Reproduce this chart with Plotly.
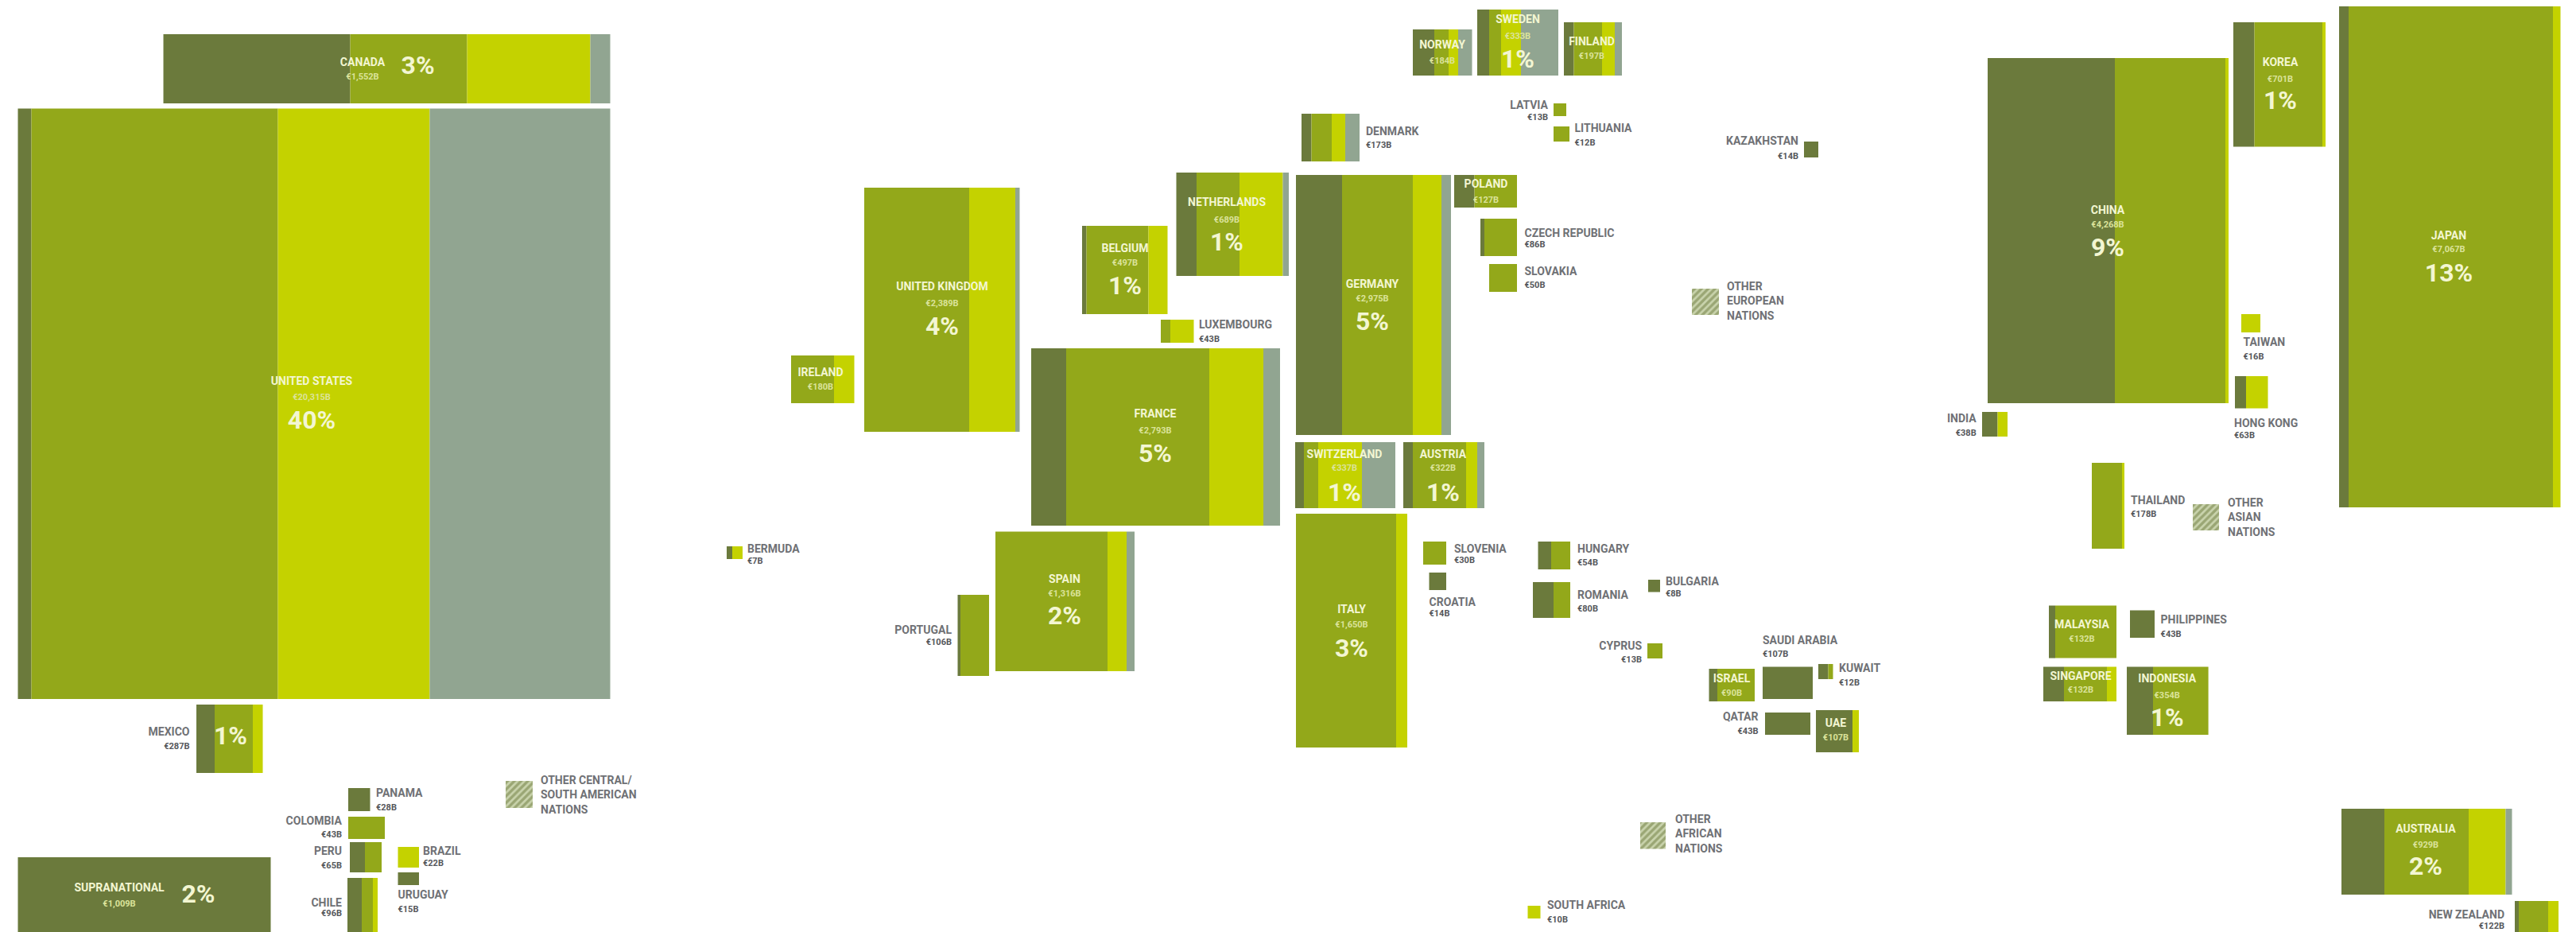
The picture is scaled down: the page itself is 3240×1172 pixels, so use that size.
import plotly.graph_objects as go

# ---- data: one entry per country, all lists run in the same order ----
COUNTRIES = ["CANADA","UNITED STATES","MEXICO","PANAMA","COLOMBIA","PERU","CHILE","BRAZIL","URUGUAY","SUPRANATIONAL",
 "UNITED KINGDOM","IRELAND","BELGIUM","NETHERLANDS","LUXEMBOURG","FRANCE","NORWAY","SWEDEN","FINLAND","DENMARK",
 "LATVIA","LITHUANIA","KAZAKHSTAN","GERMANY","POLAND","CZECH REPUBLIC","SLOVAKIA","SWITZERLAND","AUSTRIA","BERMUDA",
 "PORTUGAL","SPAIN","ITALY","SLOVENIA","CROATIA","HUNGARY","ROMANIA","BULGARIA","CYPRUS","SAUDI ARABIA",
 "KUWAIT","ISRAEL","QATAR","UAE","SOUTH AFRICA","CHINA","KOREA","JAPAN","TAIWAN","HONG KONG",
 "INDIA","THAILAND","MALAYSIA","PHILIPPINES","SINGAPORE","INDONESIA","AUSTRALIA","NEW ZEALAND"]
VALUE_LABELS = ["€1,552B","€20,315B","€287B","€28B","€43B","€65B","€96B","€22B","€15B","€1,009B",
 "€2,389B","€180B","€497B","€689B","€43B","€2,793B","€184B","€333B","€197B","€173B",
 "€13B","€12B","€14B","€2,975B","€127B","€86B","€50B","€337B","€322B","€7B",
 "€106B","€1,316B","€1,650B","€30B","€14B","€54B","€80B","€8B","€13B","€107B",
 "€12B","€90B","€43B","€107B","€10B","€4,268B","€701B","€7,067B","€16B","€63B",
 "€38B","€178B","€132B","€43B","€132B","€354B","€929B","€122B"]
PCT_LABELS = ["3%","40%","1%","","","","","","","2%",
 "4%","","1%","1%","","5%","","1%","","",
 "","","","5%","","","","1%","1%","",
 "","2%","3%","","","","","","","",
 "","","","","","9%","1%","13%","","",
 "","","","","","1%","2%",""]
SOVEREIGN = [235,17,23,27.5,0,19,18,0,26.5,318,
 0,0,5.5,25.5,0,44,27,15,12.5,12.5,
 0,0,18,58,25.5,5,0,11,12,7,
 3.5,0,0,0,21.5,16.5,26,15,0,63,
 12.5,10.5,57,46,0,160,26.5,12,0,14,
 19.5,0,8,31,26,33,54,5]
GOVT_RELATED = [147,310,48,0,46,21,14,0,0,0,
 132,54,78,54,12,180,18,15,35.5,25.5,
 16,20,0,89,53.5,41,35,18,67,0,
 36,141,126,29,0,24,21,0,19,0,
 6,47,0,0,0,139,85.5,257,0,0,
 0,38,77,0,54,69.6,106,37]
SECURITIZED = [155,191,12.5,0,0,0,6,26.5,0,0,
 58,25.5,24,54.5,29.5,68,12,25,16,17,
 0,0,0,36,0,0,0,55,14,13,
 0,24,14,0,0,0,0,0,0,0,
 0,0,0,8,16,4,4,9.5,24,27.5,
 12.5,3,0,0,12,0,46.5,13]
CORPORATE = [25,227,0,0,0,0,0,0,0,0,
 5.5,0,0,7.5,0,21,17.5,47,9,18,
 0,0,0,12,0,0,0,42,9,0,
 0,10,0,0,0,0,0,0,0,0,
 0,0,0,0,0,0,0,0,0,0,
 0,0,0,0,0,0,8,0]
SERIES_NAMES = ["Dark segment", "Mid segment", "Light segment", "Grey segment"]
OTHERS = ["OTHER CENTRAL/<br>SOUTH AMERICAN<br>NATIONS", "OTHER<br>EUROPEAN<br>NATIONS", "OTHER<br>AFRICAN<br>NATIONS", "OTHER<br>ASIAN<br>NATIONS"]
OTHER_WIDTHS = [34, 34, 32, 33]

# ---- layout of the cartogram, in page pixels ----
X_LEFT = [205.5,22.5,247,438,438,440,437,500.5,500.5,22.5,
 1087,995,1361,1479.5,1460,1297,1777,1858,1967,1637,
 1954,1954,2269,1630,1829,1862,1873,1629,1765,914,
 1204.5,1252,1630,1790,1797.5,1934.5,1928,2073,2072,2217,
 2287,2149.5,2220,2284,1921.5,2500,2809,2942,2819,2811,
 2493,2631,2577,2679,2570,2675,2945,3163]
Y_TOP = [43,136.6,886,991,1027,1059,1104,1065,1097,1078,
 236,447,284,217,402,438,37,12,28,143,
 130,159,178,220,220,275,332,556,556,687,
 748,668.5,646,681,720,681,732,729,809,838.5,
 835,841,896,893,1139,73,28,8,395,473,
 518,582,761.5,767.6,838.5,838.5,1017,1133]
Y_BOTTOM = [130,879,972,1020,1055,1097,1185,1091,1113,1185,
 543,507,395,347,431,661,95,95,95,203,
 146,178,198,547,261,322,367,639,639,703,
 850,844,940,710,742,716,777,744.5,828,879,
 854,882,924,946,1155,507,184.5,638,418,513.5,
 549,690,827.6,802,882,924,1125,1185]
# anchor: c = inside and centred, l = outside, text starts at x; r = outside, text ends at x
ANCHOR = ["c","c","r","l","r","r","r","l","l","c",
 "c","c","c","c","l","c","c","c","c","l",
 "r","l","r","c","c","l","l","c","c","l",
 "r","c","c","l","l","l","l","l","r","l",
 "l","c","r","c","l","c","c","c","l","l",
 "r","l","c","l","c","c","c","r"]
LABEL_X = [456,392,238.5,473,430,430,430,532,500.5,150,
 1185,1032,1415,1543,1508,1453,1814,1909,2002,1718,
 1947,1980.5,2262,1726,1869,1917.5,1917.5,1691,1815,940,
 1197,1339,1700,1829,1797.5,1984,1984,2095,2065,2217,
 2313,2178,2211.5,2309,1946,2651,2868,3080,2821.5,2810,
 2485.7,2680,2618.5,2717.6,2617,2725.7,3051,3150]
NAME_Y = [79,480,921,998,1033,1071,1136,1071,1126,1117,
 361,469,313,255,409,521,57,25,53,166,
 133,162,178,358,232,294,342,572,572,691,
 793,729,767,691,758,691,749,732,813,806,
 841,854,902,910,1139,265,79,297,431,533.5,
 527,630,786.6,780,851,854,1043,1151]
VALUE_Y = [97,500,939,1016,1050,1089,1149,1086,1144,1137,
 382,487,331,277,427,542,77,46,71,183,
 148,180,197,376,252,308,359,589,589,706,
 808,747,786,705,772,708.5,766,747,830,823,
 859,872,920,928,1157,283,100,314,449,548,
 545,647.5,804.6,798,868,875,1063.5,1165]
PCT_X = [525.6,392,290,0,0,0,0,0,0,249.5,
 1185,0,1415,1543,0,1453,0,1909,0,0,
 0,0,0,1726,0,0,0,1691,1815,0,
 0,1339,1700,0,0,0,0,0,0,0,
 0,0,0,0,0,2651,2868,3080,0,0,
 0,0,0,0,0,2725.7,3051,0]
PCT_Y = [85,531,928,0,0,0,0,0,0,1127,
 413,0,362,307,0,573,0,77,0,0,
 0,0,0,407,0,0,0,622,622,0,
 0,777,818,0,0,0,0,0,0,0,
 0,0,0,0,0,314,129,346,0,0,
 0,0,0,0,0,905,1092,0]
OTHER_X0 = [636, 2128, 2063, 2758]
OTHER_Y0 = [982, 363, 1034, 634]
OTHER_Y1 = [1016, 396, 1067.5, 667]
OTHER_LABEL_X = [680, 2172, 2107, 2802]
OTHER_LABEL_Y = [1001, 380, 1050, 652]

COLORS = ["#6b7a3c", "#93a81a", "#c4d200", "#91a591"]
FONT = "Roboto"
INNER = "#f3f6d2"
INNER_VAL = "#dbe39a"
OUTER = "#6f7175"
OUTER_VAL = "#55575b"

fig = go.Figure()
series = [SOVEREIGN, GOVT_RELATED, SECURITIZED, CORPORATE]
n = len(COUNTRIES)
centers = [(a + b) / 2 for a, b in zip(Y_TOP, Y_BOTTOM)]
heights = [b - a for a, b in zip(Y_TOP, Y_BOTTOM)]
cum = list(X_LEFT)
for name, vals, color in zip(SERIES_NAMES, series, COLORS):
    fig.add_trace(go.Bar(orientation="h", name=name, x=vals, y=centers, width=heights, base=list(cum),
                         marker=dict(color=color, line=dict(width=0)), hoverinfo="skip", showlegend=False))
    cum = [c + v for c, v in zip(cum, vals)]

fig.add_trace(go.Bar(orientation="h", x=OTHER_WIDTHS, base=OTHER_X0,
                     y=[(a + b) / 2 for a, b in zip(OTHER_Y0, OTHER_Y1)],
                     width=[b - a for a, b in zip(OTHER_Y0, OTHER_Y1)],
                     marker=dict(color="#c9d3ac", line=dict(width=0),
                                 pattern=dict(shape="/", fgcolor="#6b7a3c", bgcolor="#c9d3ac", size=6, solidity=0.55)),
                     hoverinfo="skip", showlegend=False))

def text_trace(xs, ys, texts, size, color, pos):
    txt = [f"<b>{t}</b>" for t in texts]
    fig.add_trace(go.Scatter(x=xs, y=ys, text=txt, mode="text", textposition=pos, cliponaxis=False,
                             textfont=dict(family=FONT, size=size, color=color), hoverinfo="skip", showlegend=False))

POS = {"c": "middle center", "l": "middle right", "r": "middle left"}
for a in "clr":
    idx = [i for i in range(n) if ANCHOR[i] == a]
    name_col = INNER if a == "c" else OUTER
    val_col = INNER_VAL if a == "c" else OUTER_VAL
    text_trace([LABEL_X[i] for i in idx], [NAME_Y[i] for i in idx], [COUNTRIES[i] for i in idx], 14, name_col, POS[a])
    text_trace([LABEL_X[i] for i in idx], [VALUE_Y[i] for i in idx], [VALUE_LABELS[i] for i in idx], 11, val_col, POS[a])

idx = [i for i in range(n) if PCT_LABELS[i]]
text_trace([PCT_X[i] for i in idx], [PCT_Y[i] for i in idx], [PCT_LABELS[i] for i in idx], 32, INNER, "middle center")
fig.add_trace(go.Scatter(x=OTHER_LABEL_X, y=OTHER_LABEL_Y, text=[f"<b>{t}</b>" for t in OTHERS], mode="text",
                         textposition="middle right", cliponaxis=False,
                         textfont=dict(family=FONT, size=14, color=OUTER), hoverinfo="skip", showlegend=False))

fig.update_layout(width=3240, height=1172, margin=dict(l=0, r=0, t=0, b=0), autosize=False,
                  paper_bgcolor="white", plot_bgcolor="white", barmode="overlay",
                  xaxis=dict(range=[0, 3240], visible=False, fixedrange=True),
                  yaxis=dict(range=[1172, 0], visible=False, fixedrange=True))
fig.write_html("out.html", config={"displayModeBar": False},
               post_script="document.body.style.margin='0';document.documentElement.style.overflow='hidden';")
